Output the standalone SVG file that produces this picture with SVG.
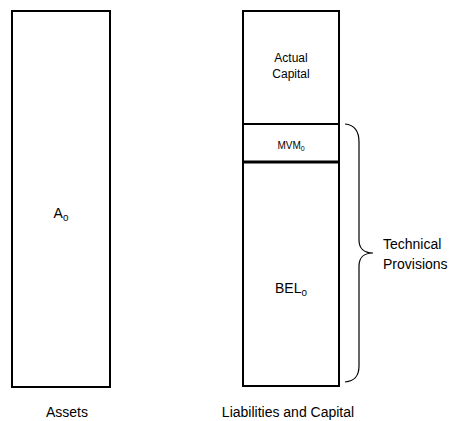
<svg xmlns="http://www.w3.org/2000/svg" width="459" height="421" viewBox="0 0 459 421">
<style>
.box{fill:#fff;stroke:#000;stroke-width:2}
.t{font-family:"Liberation Sans",Arial,sans-serif;fill:#000}
.sub{font-size:70%}
</style>
<rect width="459" height="421" fill="#fff"/>
<g id="assets">
<rect class="box" x="12" y="11" width="98" height="376"/>
<text class="t" x="61" y="218" font-size="14" text-anchor="middle">A<tspan class="sub" dy="3">0</tspan></text>
<text class="t" x="67" y="417" font-size="14" text-anchor="middle">Assets</text>
</g>
<g id="liabilities">
<rect class="box" x="243" y="11" width="96" height="375"/>
<text class="t" x="288" y="417" font-size="14" text-anchor="middle">Liabilities and Capital</text>
</g>
<g id="actual-capital">
<text class="t" x="291" y="62" font-size="12" text-anchor="middle">Actual</text>
<text class="t" x="291" y="78" font-size="12" text-anchor="middle">Capital</text>
</g>
<g id="mvm">
<line x1="243" y1="124" x2="339" y2="124" stroke="#000" stroke-width="2"/>
<line x1="243" y1="162" x2="339" y2="162" stroke="#000" stroke-width="3"/>
<text class="t" x="291" y="149" font-size="10" text-anchor="middle">MVM<tspan class="sub" dy="2">0</tspan></text>
</g>
<g id="bel">
<text class="t" x="291" y="293" font-size="14" text-anchor="middle">BEL<tspan class="sub" dy="3">0</tspan></text>
</g>
<g id="connectors">
<path d="M345,124 C355,125 359,132 359,142 L359,240 C359,248 364,253 373,253 C364,253 359,258 359,266 L359,366 C359,376 355,381 345,382" fill="none" stroke="#000" stroke-width="1.2"/>
</g>
<g id="technical-provisions">
<text class="t" x="383" y="249" font-size="14">Technical</text>
<text class="t" x="383" y="269" font-size="14">Provisions</text>
</g>
</svg>
